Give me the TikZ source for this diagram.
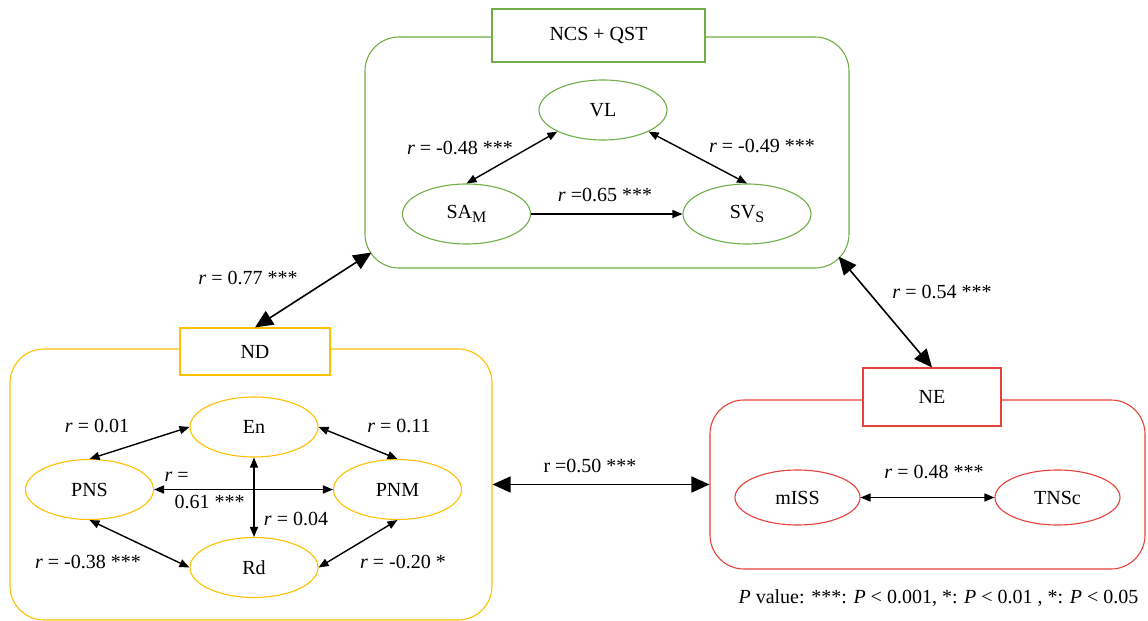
\documentclass[tikz,border=0pt]{standalone}
\usepackage{fontspec}
\setmainfont{Liberation Serif}
\usetikzlibrary{arrows.meta,shapes.geometric}
\definecolor{ncsgreen}{HTML}{70AD47}
\definecolor{ndorange}{HTML}{FFC000}
\definecolor{nered}{HTML}{E8403A}

\begin{document}
\begin{tikzpicture}[x=0.5pt,y=-0.5pt,font=\fontsize{10}{12}\selectfont,line width=0.55pt,
  group/.style={draw=#1,rounded corners=17pt,inner sep=0pt},
  title/.style={draw=#1,fill=white,inner sep=0pt},
  var/.style={ellipse,draw=#1,inner sep=0pt,minimum width=64pt,minimum height=30pt},
  corr/.style={{Triangle[length=5pt,width=4pt]}-{Triangle[length=5pt,width=4pt]},line width=0.7pt},
  link/.style={{Triangle[length=9pt,width=8pt]}-{Triangle[length=9pt,width=8pt]},line width=0.8pt},
  lab/.style={inner sep=1pt}]
  \useasboundingbox (0,0) rectangle (1148,621);

  % groups
  \node[group=ncsgreen,minimum width=242pt,minimum height=115.5pt] (ncs) at (607,152.5) {};
  \node[title=ncsgreen,minimum width=106.5pt,minimum height=26.5pt] (ncst) at (598.5,35.5) {NCS + QST};
  \node[group=ndorange,minimum width=241pt,minimum height=135.5pt] (nd) at (251,484.5) {};
  \node[title=ndorange,minimum width=75pt,minimum height=23.5pt] (ndt) at (255,351.5) {ND};
  \node[group=nered,minimum width=217.5pt,minimum height=84.5pt] (ne) at (927.5,484.5) {};
  \node[title=nered,minimum width=69pt,minimum height=29pt] (net) at (932,397) {NE};

  % variables
  \node[var=ncsgreen] (vl) at (603,110) {VL};
  \node[var=ncsgreen] (sam) at (466.5,214) {SA\raisebox{-.5ex}{\footnotesize M}};
  \node[var=ncsgreen] (svs) at (747,214) {SV\raisebox{-.5ex}{\footnotesize S}};
  \node[var=ndorange] (en) at (254,427) {En};
  \node[var=ndorange] (pns) at (89.5,489.5) {PNS};
  \node[var=ndorange] (pnm) at (397.5,489.5) {PNM};
  \node[var=ndorange] (rd) at (254,567.5) {Rd};
  \node[var=nered,minimum width=62.5pt,minimum height=27.5pt] (miss) at (797.5,497.5) {mISS};
  \node[var=nered,minimum width=62.5pt,minimum height=27.5pt] (tnsc) at (1057.5,497.5) {TNSc};

  \coordinate (ncscorner1) at ([shift={(7,-16)}]ncs.south west);
  \coordinate (ncscorner2) at ([shift={(-11,-12)}]ncs.south east);

  % correlations
  \draw[corr] (sam.north) -- (vl.south west);
  \draw[corr] (vl.south east) -- (svs.north);
  \draw[-{Triangle[length=5pt,width=4pt]},line width=0.7pt] (sam.east) -- (svs.west);
  \draw[corr] (pns.north) -- (en.west);
  \draw[corr] (en.east) -- (pnm.north);
  \draw[corr] (pns.east) -- (pnm.west);
  \draw[corr] (en.south) -- (rd.north);
  \draw[corr] (pns.south) -- (rd.west);
  \draw[corr] (pnm.south) -- (rd.east);
  \draw[corr] (miss.east) -- (tnsc.west);
  \draw[link] (ndt.north) -- (ncscorner1);
  \draw[link] (net.north) -- (ncscorner2);
  \draw[link] (nd.east) -- (ne.west);

  % labels
  \node[lab] (l1) at (460,148) {\textit{r} = -0.48 ***};
  \node[lab] (l2) at (762,146) {\textit{r} = -0.49 ***};
  \node[lab] (l3) at (605,195) {\textit{r} =0.65 ***};
  \node[lab] (l4) at (97,426) {\textit{r} = 0.01};
  \node[lab] (l5) at (399,426) {\textit{r} = 0.11};
  \node[lab,anchor=west,align=left] (l6) at (162,490) {\textit{r} =\\[1.5pt]\hspace*{5pt}0.61 ***};
  \node[lab] (l7) at (296,519) {\textit{r} = 0.04};
  \node[lab] (l8) at (88,562) {\textit{r} = -0.38 ***};
  \node[lab] (l9) at (403,562) {\textit{r} = -0.20 *};
  \node[lab] (l10) at (590,466) {r =0.50 ***};
  \node[lab] (l11) at (934,472) {\textit{r} = 0.48 ***};
  \node[lab] (l12) at (248,278) {\textit{r} = 0.77 ***};
  \node[lab] (l13) at (942,292) {\textit{r} = 0.54 ***};
  \node[lab,anchor=east] (pval) at (1141,598) {\textit{P} value: ***: \textit{P} < 0.001, *: \textit{P} < 0.01 , *: \textit{P} < 0.05};
\end{tikzpicture}
\end{document}
